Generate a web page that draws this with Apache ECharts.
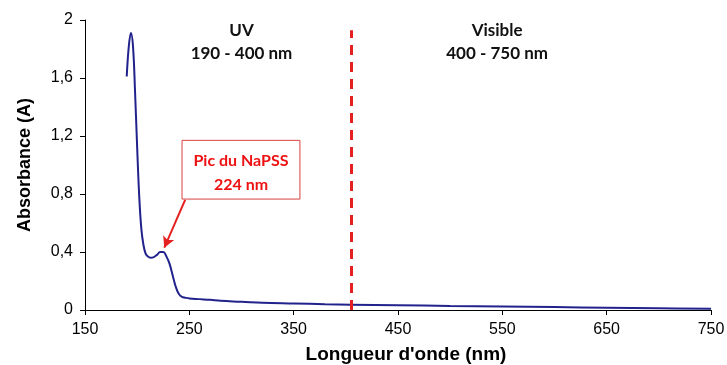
<!DOCTYPE html>
<html><head><meta charset="utf-8">
<script src="https://cdn.jsdelivr.net/npm/echarts@6/dist/echarts.min.js"></script>
<style>html,body{margin:0;padding:0;background:#fff}#c{width:727px;height:365px}</style>
</head><body><div id="c"></div>
<script>
const wavelengths = [190,192,194,196,198,200,202,204,206,208,210,213,216,219,222,225,228,231,234,237,240,243,246,250,260,270,280,300,320,350,380,405,450,500,550,600,650,700,750];
const absorbance = [1.61,1.82,1.91,1.82,1.50,1.12,0.78,0.56,0.45,0.39,0.37,0.36,0.365,0.38,0.40,0.40,0.37,0.32,0.24,0.16,0.11,0.09,0.085,0.08,0.075,0.07,0.063,0.057,0.05,0.045,0.04,0.037,0.033,0.028,0.024,0.02,0.016,0.012,0.008];
const xTicks = [150,250,350,450,550,650,750];
const yTicks = [0,0.4,0.8,1.2,1.6,2];
const boundary = 405;
const regionLabels = [{x:300,title:'UV',range:'190 - 400 nm'},{x:545,title:'Visible',range:'400 - 750 nm'}];
const peakLabel = ['Pic du NaPSS','224 nm'];

const chart = echarts.init(document.getElementById('c'));
const pts = wavelengths.map((w,i)=>[w,absorbance[i]]);
chart.setOption({
  animation:false,
  grid:{left:85,right:16,top:20,bottom:55,containLabel:false,outerBoundsMode:'none'},
  xAxis:{type:'value',min:150,max:750,interval:100,
    name:"Longueur d'onde (nm)",nameLocation:'middle',nameGap:35,
    nameTextStyle:{fontFamily:'Liberation Sans',fontWeight:'bold',fontSize:19,color:'#000',padding:[0,0,0,16]},
    axisLine:{lineStyle:{color:'#000',width:1}},axisTick:{show:true,length:5,lineStyle:{color:'#000'}},
    axisLabel:{fontFamily:'Liberation Sans',fontSize:16,color:'#000',margin:12},
    splitLine:{show:false}},
  yAxis:{type:'value',min:0,max:2,interval:0.4,
    name:'Absorbance (A)',nameLocation:'middle',nameGap:51,
    nameTextStyle:{fontFamily:'Liberation Sans',fontWeight:'bold',fontSize:18,color:'#000'},
    axisLine:{show:true,lineStyle:{color:'#000',width:1}},axisTick:{show:true,length:5,lineStyle:{color:'#000'}},
    axisLabel:{fontFamily:'Liberation Sans',fontSize:16,color:'#000',margin:12,
      formatter:v=>String(Math.round(v*10)/10).replace('.',',')},
    splitLine:{show:false}},
  series:[{type:'line',data:pts,smooth:0.4,showSymbol:false,symbol:'none',
    lineStyle:{color:'#22228c',width:2},
    markLine:{silent:true,symbol:'none',label:{show:false},
      data:[[{coord:[boundary,0],lineStyle:{color:'#e52020',width:3,type:[10,7]}},{coord:[boundary,1.93]}],
            [{coord:[246,0.76],symbol:'none',lineStyle:{color:'#e52020',width:2,type:'solid'}},{coord:[226,0.43],symbol:'arrow',symbolSize:[9,11]}]]}
  }]
});

function place(){
  const p = (x,y)=>chart.convertToPixel({gridIndex:0},[x,y]);
  const els = [];
  regionLabels.forEach(r=>{
    const top = p(r.x,1.93);
    els.push({type:'text',x:top[0],y:top[1]-11,style:{text:r.title+'\n'+r.range,fill:'#111',
      font:'bold 17px Lato',textAlign:'center',textVerticalAlign:'top',lineHeight:23}});
  });
  const b0 = p(243,1.17), b1 = p(356,0.765);
  els.push({type:'rect',shape:{x:b0[0],y:b0[1],width:b1[0]-b0[0],height:b1[1]-b0[1]},
    style:{fill:'#fff',stroke:'#d94040',lineWidth:1}});
  els.push({type:'text',x:(b0[0]+b1[0])/2,y:b0[1]+8,style:{text:peakLabel.join('\n'),fill:'#ee1111',
    font:'bold 16px Lato',textAlign:'center',textVerticalAlign:'top',lineHeight:24}});
  chart.setOption({graphic:els});
}
place();
</script></body></html>
